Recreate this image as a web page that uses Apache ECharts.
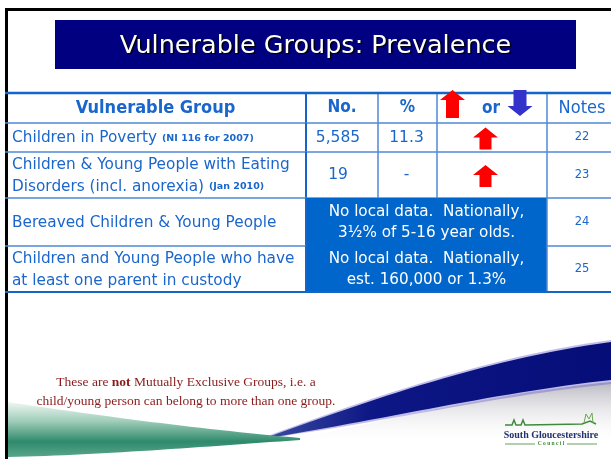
<!DOCTYPE html>
<html>
<head>
<meta charset="utf-8">
<script src="https://cdn.jsdelivr.net/npm/echarts@6/dist/echarts.min.js"></script>
<style>
  html, body { margin: 0; background: #fff; }
  #chart { width: 611px; height: 459px; }
</style>
</head>
<body>
<div id="chart"></div>
<script>
// table content
const headers = ['Vulnerable Group', 'No.', '%', 'or', 'Notes']
const groups = [
  'Children in Poverty',
  'Children & Young People with Eating\nDisorders (incl. anorexia)',
  'Bereaved Children & Young People',
  'Children and Young People who have\nat least one parent in custody'
]
const groupSources = ['(NI 116 for 2007)', '(Jan 2010)', '', '']
const counts = ['5,585', '19', null, null]
const percents = ['11.3', '-', null, null]
const trends = ['up', 'up', null, null]
const noteRefs = ['22', '23', '24', '25']
const nationalText = [
  null,
  null,
  'No local data.  Nationally,\n3½% of 5-16 year olds.',
  'No local data.  Nationally,\nest. 160,000 or 1.3%'
]
const slideTitle = 'Vulnerable Groups: Prevalence'
const footNote = '{a|These are }{b|not}{a| Mutually Exclusive Groups, i.e. a}\n{a|child/young person can belong to more than one group.}'

// layout (table units = px inside the grid)
const FONT = "'DejaVu Sans', sans-serif"
const FONT_C = "'DejaVu Sans Condensed', 'DejaVu Sans', sans-serif"
const TXT = '#1a66cc'
const LINE = '#4f8ad6'
const TABLE_W = 606
const TABLE_H = 199
const COL_EDGES = [0, 301, 373, 432, 542, 606]
const ROW_EDGES = [0, 30, 59, 105, 153, 199]

function arrow(cx, top, w, h, hh, sw, dir, color) {
  const hw = w / 2
  let pts
  if (dir === 'up') {
    pts = [[cx, top], [cx + hw, top + hh], [cx + sw, top + hh], [cx + sw, top + h],
      [cx - sw, top + h], [cx - sw, top + hh], [cx - hw, top + hh]]
  } else {
    const b = top + h
    pts = [[cx, b], [cx + hw, b - hh], [cx + sw, b - hh], [cx + sw, top],
      [cx - sw, top], [cx - sw, b - hh], [cx - hw, b - hh]]
  }
  return { type: 'polygon', shape: { points: pts }, style: { fill: color } }
}

function seg(x1, y1, x2, y2, w, color) {
  return { type: 'line', shape: { x1, y1, x2, y2 }, style: { stroke: color || LINE, lineWidth: w || 1.5 } }
}

function txt(x, y, text, font, color, align) {
  return {
    type: 'text', x, y,
    style: { text, font, fill: color || TXT, align: align || 'center', verticalAlign: 'middle' }
  }
}

function renderRow(params, api) {
  const r = api.value(0)
  const X = v => api.coord([v, 0])[0]
  const Y = v => api.coord([0, v])[1]
  const top = Y(ROW_EDGES[r])
  const bot = Y(ROW_EDGES[r + 1])
  const mid = (top + bot) / 2
  const cx = c => (X(COL_EDGES[c]) + X(COL_EDGES[c + 1])) / 2
  const i = r - 1
  const merged = i >= 0 && nationalText[i] != null
  const nextMerged = i + 1 < groups.length && nationalText[i + 1] != null
  const kids = []

  if (merged) {
    kids.push({
      type: 'rect',
      shape: { x: X(COL_EDGES[1]), y: top, width: X(COL_EDGES[4]) - X(COL_EDGES[1]), height: bot - top + (nextMerged ? 1 : 0) },
      style: { fill: '#0066cc' }
    })
  }
  for (let c = 1; c < COL_EDGES.length - 1; c++) {
    if (merged && (c === 2 || c === 3)) continue
    kids.push(seg(X(COL_EDGES[c]), top, X(COL_EDGES[c]), bot, c === 1 ? 2 : 1.5, c === 1 ? '#1565c8' : LINE))
  }
  if (merged && nextMerged) {
    kids.push(seg(X(0), bot, X(COL_EDGES[1]), bot))
    kids.push(seg(X(COL_EDGES[4]), bot, X(TABLE_W), bot))
  } else {
    kids.push(seg(X(0), bot, X(TABLE_W), bot, r === groups.length ? 2 : 1.5, r === groups.length ? '#1565c8' : LINE))
  }
  if (r === 0) {
    kids.push(seg(X(0), top, X(TABLE_W), top, 2.5, '#1565c8'))
    kids.push(txt(cx(0), mid, headers[0], 'bold 18px ' + FONT_C))
    kids.push(txt(cx(1), mid, headers[1], 'bold 17px ' + FONT_C))
    kids.push(txt(cx(2), mid, headers[2], 'bold 17px ' + FONT_C))
    kids.push(arrow(X(447.5), top - 3, 25, 28, 10, 6.5, 'up', '#ff0000'))
    kids.push(txt(X(486), mid + 1, headers[3], 'bold 17px ' + FONT_C))
    kids.push(arrow(X(515), top - 3, 25, 26, 10, 6.5, 'down', '#3333cc'))
    kids.push(txt(cx(4) + 3, mid, headers[4], '18px ' + FONT_C))
    return { type: 'group', children: kids }
  }

  const lines = groups[i].split('\n')
  const label = lines.map((l, k) =>
    (k === lines.length - 1 && groupSources[i]) ? '{a|' + l + ' }{b|' + groupSources[i] + '}' : '{a|' + l + '}'
  ).join('\n')
  kids.push({
    type: 'text', x: X(7), y: mid + 1,
    style: {
      text: label, align: 'left', verticalAlign: 'middle',
      rich: {
        a: { font: '15.3px ' + FONT, fill: TXT, lineHeight: 22 },
        b: { font: 'bold 9.5px ' + FONT, fill: TXT, lineHeight: 22 }
      }
    }
  })
  if (merged) {
    kids.push({
      type: 'text', x: (X(COL_EDGES[1]) + X(COL_EDGES[4])) / 2, y: mid + 1,
      style: { text: nationalText[i], font: '15.2px ' + FONT, fill: '#fff', align: 'center', verticalAlign: 'middle', lineHeight: 21 }
    })
  } else {
    kids.push(txt(cx(1) - 4, mid, counts[i], '15.5px ' + FONT))
    kids.push(txt(cx(2) - 1, mid, percents[i], '15.5px ' + FONT))
    if (trends[i]) {
      kids.push(arrow(X(480.5), mid - 10, 25, 22, 10, 6, trends[i], '#ff0000'))
    }
  }
  kids.push(txt(cx(4) + 3, mid, noteRefs[i], '11.5px ' + FONT))
  return { type: 'group', children: kids }
}

function bez(p0, p1, p2, p3, n) {
  const out = []
  for (let k = 0; k <= n; k++) {
    const t = k / n, u = 1 - t
    out.push([
      u * u * u * p0[0] + 3 * u * u * t * p1[0] + 3 * u * t * t * p2[0] + t * t * t * p3[0],
      u * u * u * p0[1] + 3 * u * u * t * p1[1] + 3 * u * t * t * p2[1] + t * t * t * p3[1]
    ])
  }
  return out
}

const LG = (x0, y0, x1, y1, stops) => new echarts.graphic.LinearGradient(x0, y0, x1, y1, stops)

const chart = echarts.init(document.getElementById('chart'))
chart.setOption({
  animation: false,
  backgroundColor: '#fff',
  grid: { left: 5, top: 93, width: TABLE_W, height: TABLE_H },
  xAxis: { type: 'value', min: 0, max: TABLE_W, show: false },
  yAxis: { type: 'value', min: 0, max: TABLE_H, inverse: true, show: false },
  graphic: [
    // grey shade under the blue swoosh
    {
      type: 'polygon', silent: true,
      shape: { points: bez([290, 440], [390, 420], [500, 392], [611, 382], 30).concat(bez([611, 445], [500, 432], [390, 436], [290, 440], 30)) },
      style: { fill: LG(0, 0, 0, 1, [{ offset: 0, color: 'rgba(160,160,172,0.75)' }, { offset: 1, color: 'rgba(255,255,255,0)' }]) }
    },
    // violet fringe
    {
      type: 'polygon', silent: true,
      shape: { points: bez([262, 438], [370, 398], [490, 356], [611, 340], 30).concat(bez([611, 384], [500, 395], [380, 423], [262, 439], 30)) },
      style: { fill: 'rgba(100,90,200,0.4)' }
    },
    // blue swoosh
    {
      type: 'polygon', silent: true,
      shape: { points: bez([268, 437], [370, 400], [490, 358], [611, 342], 30).concat(bez([611, 380], [500, 392], [380, 420], [268, 438], 30)) },
      style: { fill: LG(0, 0, 1, 0, [{ offset: 0, color: '#3a4aa0' }, { offset: 0.3, color: '#0d1785' }, { offset: 1, color: '#050d78' }]) }
    },
    // green swoosh
    {
      type: 'polygon', silent: true,
      shape: { points: bez([8, 402], [100, 416], [200, 429], [300, 438], 30).concat(bez([300, 440], [200, 447], [100, 455], [8, 457], 30)) },
      style: { fill: LG(0, 0, 0, 1, [{ offset: 0, color: '#eef7f2' }, { offset: 0.35, color: '#9fcdb9' }, { offset: 0.72, color: '#2f8a6c' }, { offset: 1, color: '#5aa58b' }]) }
    },
    // slide frame
    {
      type: 'rect', silent: true,
      shape: { x: 6.5, y: 9.5, width: 640, height: 480 },
      style: { fill: 'none', stroke: '#000', lineWidth: 3 }
    },
    // title banner
    { type: 'rect', silent: true, shape: { x: 55, y: 20, width: 521, height: 49 }, style: { fill: '#000080' } },
    {
      type: 'text', silent: true, x: 315.5, y: 46,
      style: {
        text: slideTitle, font: '25.5px ' + FONT, fill: '#fff', align: 'center', verticalAlign: 'middle',
        textShadowColor: '#000', textShadowOffsetX: 1.5, textShadowOffsetY: 1.5, textShadowBlur: 1
      }
    },
    // foot note
    {
      type: 'text', silent: true, x: 186, y: 392,
      style: {
        text: footNote, align: 'center', verticalAlign: 'middle',
        rich: {
          a: { font: "13.5px 'Liberation Serif', serif", fill: '#8b1a1a', lineHeight: 19 },
          b: { font: "bold 13.5px 'Liberation Serif', serif", fill: '#8b1a1a', lineHeight: 19 }
        }
      }
    },
    // council logo
    {
      type: 'polyline', silent: true,
      shape: { points: [[505, 425], [512, 425], [514, 420], [516, 425], [521, 425], [523, 420], [525, 425], [582, 424], [590, 421], [596, 424]] },
      style: { stroke: '#3f8a3a', lineWidth: 1.5, fill: 'none' }
    },
    {
      type: 'polyline', silent: true,
      shape: { points: [[584, 423], [586, 414], [589, 419], [592, 413], [593, 423]] },
      style: { stroke: '#6aa84f', lineWidth: 1, fill: 'none' }
    },
    {
      type: 'text', silent: true, x: 551, y: 435,
      style: { text: 'South Gloucestershire', font: "bold 10px 'Liberation Serif', serif", fill: '#23306e', align: 'center', verticalAlign: 'middle' }
    },
    {
      type: 'text', silent: true, x: 551, y: 444,
      style: { text: 'C o u n c i l', font: "bold 5.5px 'Liberation Serif', serif", fill: '#3f8a3a', align: 'center', verticalAlign: 'middle' }
    },
    { type: 'line', silent: true, shape: { x1: 505, y1: 444, x2: 535, y2: 444 }, style: { stroke: '#3f8a3a', lineWidth: 0.8 } },
    { type: 'line', silent: true, shape: { x1: 567, y1: 444, x2: 597, y2: 444 }, style: { stroke: '#3f8a3a', lineWidth: 0.8 } }
  ],
  series: [{
    type: 'custom',
    coordinateSystem: 'cartesian2d',
    silent: true,
    clip: false,
    renderItem: renderRow,
    data: [0].concat(groups.map((g, k) => k + 1)).map(r => [r])
  }]
})
</script>
</body>
</html>
